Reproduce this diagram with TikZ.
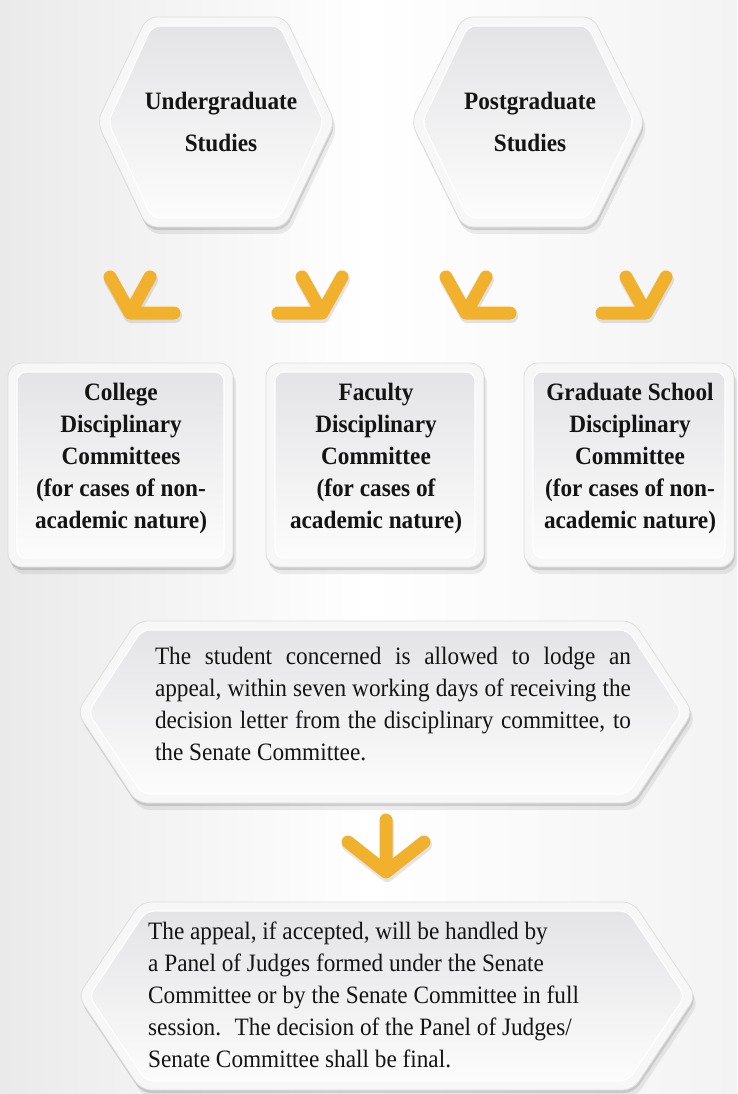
\documentclass[tikz,border=0pt]{standalone}
\usepackage{fontspec}
\setmainfont{Liberation Serif}[FakeStretch=0.93]
\usetikzlibrary{shadows}
\definecolor{arrowgold}{HTML}{F2B12C}
\definecolor{bgleft}{HTML}{EAEAEA}
\definecolor{bgright}{HTML}{F3F3F3}
\definecolor{rimfill}{HTML}{F7F7F7}
\definecolor{rimline}{HTML}{DEDEDE}
\definecolor{paneltop}{HTML}{E4E4E7}
\definecolor{panelbot}{HTML}{FCFCFC}
\definecolor{inktext}{HTML}{141414}
\tolerance=9999

\newcommand{\plate}[5]{%
\path[rim] (#1-#3,#2) -- (#1-#4,#2-#5) -- (#1+#4,#2-#5) -- (#1+#3,#2) -- (#1+#4,#2+#5) -- (#1-#4,#2+#5) -- cycle;
\path[panel] (#1-#3+11,#2) -- (#1-#4+5,#2-#5+9) -- (#1+#4-5,#2-#5+9) -- (#1+#3-11,#2) -- (#1+#4-5,#2+#5-9) -- (#1-#4+5,#2+#5-9) -- cycle;}
\newcommand{\card}[4]{%
\path[rim, rounded corners=14pt] (#1,#2) rectangle (#3,#4);
\path[panel, rounded corners=9pt] (#1+9,#2+9) rectangle (#3-9,#4-9);}

\begin{document}
\begin{tikzpicture}[x=1pt, y=-1pt,
  rim/.style={fill=rimfill, draw=rimline, line width=.8pt, rounded corners=10pt,
    drop shadow={shadow xshift=3pt, shadow yshift=-7pt, opacity=.07, fill=black},
    drop shadow={shadow xshift=1pt, shadow yshift=-3pt, opacity=.12, fill=black}},
  panel/.style={top color=paneltop, bottom color=panelbot, draw=white, line width=1.2pt, rounded corners=8pt},
  hextext/.style={align=center, inner sep=0pt, text=inktext, font=\fontsize{25}{42}\selectfont\bfseries},
  boxtext/.style={align=center, inner sep=0pt, text=inktext, font=\fontsize{25}{32}\selectfont\bfseries},
  bodytext/.style={inner sep=0pt, text=inktext, font=\fontsize{25}{32}\selectfont},
  chevron/.style={draw=arrowgold, line width=13pt, line cap=round, line join=round},
  chevshade/.style={draw=black, opacity=.10, line width=14pt, line cap=round, line join=round}]
\useasboundingbox (0,0) rectangle (737,1094);
\shade[left color=bgleft, right color=bgright, middle color=white] (0,0) rectangle (737,1094);

\plate{216}{122}{119}{69}{105}
\plate{528}{122}{117}{65}{105}
\card{8}{363}{233}{567}
\card{266}{363}{484}{567}
\card{524}{363}{734}{567}
\plate{385}{712}{308}{248}{91}
\plate{387}{996}{309}{246}{94}

\node[hextext] (ug) at (221,122) {Undergraduate\\Studies};
\node[hextext] (pg) at (530,122) {Postgraduate\\Studies};

\node[boxtext] (college) at (121,458) {College\\Disciplinary\\Committees\\(for cases of non-\\academic nature)};
\node[boxtext] (faculty) at (376,458) {Faculty\\Disciplinary\\Committee\\(for cases of\\academic nature)};
\node[boxtext] (gradsch) at (630,458) {Graduate School\\Disciplinary\\Committee\\(for cases of non-\\academic nature)};

\node[bodytext, text width=476pt, align=justify] (appeal) at (393,704) {The student concerned is allowed to lodge an\linebreak appeal, within seven working days of receiving the\linebreak decision letter from the disciplinary committee, to\linebreak the Senate Committee.};
\node[bodytext, anchor=west, align=left] (judges) at (148,995) {The appeal, if accepted, will be handled by\\a Panel of Judges formed under the Senate\\Committee or by the Senate Committee in full\\session.~ The decision of the Panel of Judges/\\Senate Committee shall be final.};

\foreach \n/\x/\d in {1/130/44, 2/322/-44, 3/466/44, 4/646/-44}{
\coordinate (tip\n) at (\x,313);
\draw[chevshade] ([xshift=1pt,yshift=-3pt]tip\n) ++(-20,-36) -- ++(20,36) -- ++(20,-36) ++(-20,36) -- ++(\d,0);
\draw[chevron] (tip\n) ++(-20,-36) -- ++(20,36) -- ++(20,-36) ++(-20,36) -- ++(\d,0);
}
\coordinate (tip5) at (386,872);
\draw[chevshade] ([xshift=1pt,yshift=-3pt]tip5) ++(0,-52) -- ++(0,52) ++(-38,-30) -- ++(38,30) -- ++(38,-30);
\draw[chevron] (tip5) ++(0,-52) -- ++(0,52) ++(-38,-30) -- ++(38,30) -- ++(38,-30);
\end{tikzpicture}
\end{document}
